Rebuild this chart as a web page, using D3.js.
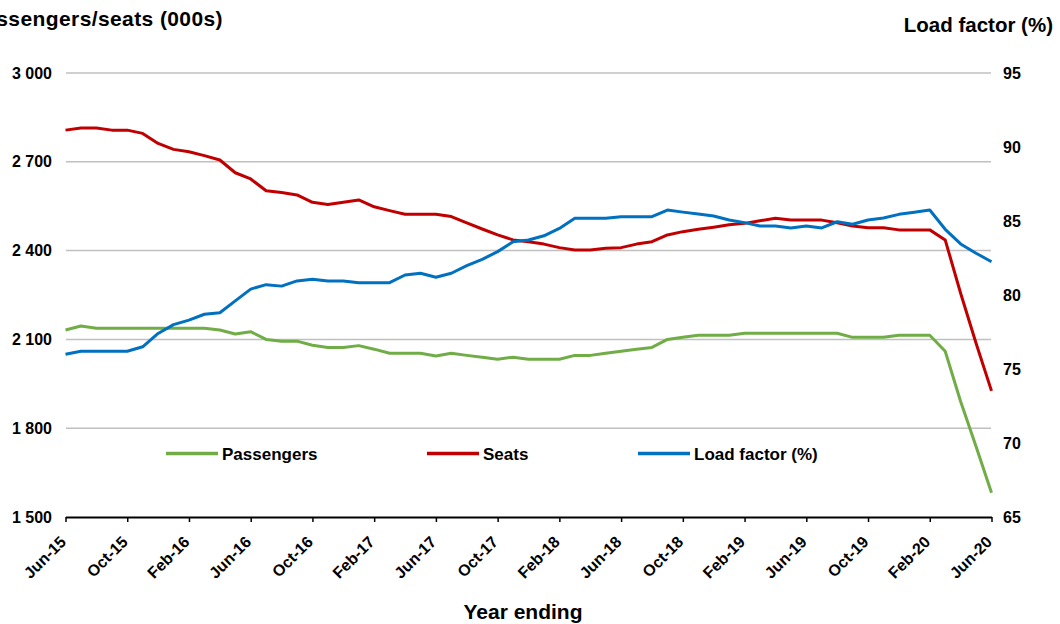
<!DOCTYPE html>
<html><head><meta charset="utf-8">
<script src="https://cdn.jsdelivr.net/npm/d3@7"></script>
<style>
html,body{margin:0;padding:0;background:#fff;}
text{font-family:"Liberation Sans",Arial,sans-serif;font-weight:bold;fill:#000;}
</style></head>
<body>
<svg id="chart" width="1060" height="624"></svg>
<script>
const months = ["Jun-15","Jul-15","Aug-15","Sep-15","Oct-15","Nov-15","Dec-15","Jan-16","Feb-16","Mar-16","Apr-16","May-16",
"Jun-16","Jul-16","Aug-16","Sep-16","Oct-16","Nov-16","Dec-16","Jan-17","Feb-17","Mar-17","Apr-17","May-17",
"Jun-17","Jul-17","Aug-17","Sep-17","Oct-17","Nov-17","Dec-17","Jan-18","Feb-18","Mar-18","Apr-18","May-18",
"Jun-18","Jul-18","Aug-18","Sep-18","Oct-18","Nov-18","Dec-18","Jan-19","Feb-19","Mar-19","Apr-19","May-19",
"Jun-19","Jul-19","Aug-19","Sep-19","Oct-19","Nov-19","Dec-19","Jan-20","Feb-20","Mar-20","Apr-20","May-20","Jun-20"];
const tickLabels = ["Jun-15","Oct-15","Feb-16","Jun-16","Oct-16","Feb-17","Jun-17","Oct-17","Feb-18","Jun-18","Oct-18","Feb-19","Jun-19","Oct-19","Feb-20","Jun-20"];
const passengers = [2132,2145,2138,2138,2138,2138,2138,2138,2138,2138,2132,2118,2126,2100,2094,2094,2080,2073,2073,2079,2067,
2053,2053,2053,2044,2053,2046,2040,2033,2040,2033,2033,2033,2046,2046,2053,2060,2067,2073,2100,2107,2114,2114,2114,
2121,2121,2121,2121,2121,2121,2121,2107,2107,2107,2114,2114,2114,2060,1890,1738,1582];
const seats = [2807,2814,2814,2807,2807,2796,2762,2742,2734,2721,2706,2663,2642,2602,2596,2588,2563,2556,2563,2571,2548,
2535,2523,2523,2523,2515,2494,2473,2453,2436,2430,2422,2410,2402,2402,2408,2410,2422,2430,2453,2464,2472,2479,2487,
2492,2501,2509,2503,2503,2503,2494,2483,2477,2477,2470,2470,2470,2436,2256,2087,1926];
const loadFactor = [76.0,76.2,76.2,76.2,76.2,76.5,77.4,78.0,78.3,78.7,78.8,79.6,80.4,80.7,80.6,80.95,81.06,80.95,80.95,80.83,80.83,
80.83,81.35,81.47,81.2,81.47,81.98,82.41,82.93,83.6,83.72,84.0,84.5,85.18,85.18,85.18,85.29,85.29,85.29,85.74,85.6,85.47,85.34,85.07,
84.89,84.66,84.66,84.53,84.66,84.53,84.95,84.78,85.07,85.2,85.45,85.59,85.74,84.44,83.45,82.82,82.25];
const leftTicks = [1500,1800,2100,2400,2700,3000];
const rightTicks = [65,70,75,80,85,90,95];
const seriesNames = ["Passengers","Seats","Load factor (%)"];
const colors = ["#70ad47","#c00000","#0070c0"];

const svg = d3.select("#chart");
const x = d3.scalePoint().domain(months).range([65.5, 991.5]);
const yL = d3.scaleLinear().domain([1500,3000]).range([517,73]);
const yR = d3.scaleLinear().domain([65,95]).range([517,73]);

const styleText = g => g.selectAll("text").attr("font-size",16)
  .attr("font-family","Liberation Sans, Arial").attr("font-weight","bold").attr("fill","#000");

// gridlines
svg.append("g").selectAll("line").data(leftTicks.filter(d=>d>1500)).join("line")
  .attr("x1",66).attr("x2",991).attr("y1",d=>yL(d)).attr("y2",d=>yL(d))
  .attr("stroke","#c0c0c0").attr("stroke-width",1.5);

// left axis labels
const lAxis = d3.axisLeft(yL).tickValues(leftTicks).tickSize(0).tickPadding(13)
  .tickFormat(d=>d3.format(",")(d).replace(",", " "));
svg.append("g").attr("transform","translate(65,0)").call(lAxis)
  .call(g=>g.select(".domain").remove()).call(styleText);

// right axis labels
const rAxis = d3.axisRight(yR).tickValues(rightTicks).tickSize(0).tickPadding(12);
svg.append("g").attr("transform","translate(991,0)").call(rAxis)
  .call(g=>g.select(".domain").remove()).call(styleText);

// x axis
const xAxis = d3.axisBottom(x).tickValues(tickLabels).tickSize(5).tickSizeOuter(0);
const gx = svg.append("g").attr("transform","translate(0,517)").call(xAxis);
gx.select(".domain").attr("stroke","#000").attr("stroke-width",2);
gx.selectAll(".tick line").attr("stroke","#000").attr("stroke-width",1.5);
gx.call(styleText);
gx.selectAll("text").attr("text-anchor","end").attr("x",0).attr("y",0).attr("dy",0)
  .attr("transform","translate(1,26) rotate(-45)");

// lines
const series = [
  {vals: passengers, y: yL},
  {vals: seats, y: yL},
  {vals: loadFactor, y: yR}
];
series.forEach((s,i)=>{
  const line = d3.line().x((d,j)=>x(months[j])).y(d=>s.y(d));
  svg.append("path").datum(s.vals).attr("d",line).attr("fill","none")
    .attr("stroke",colors[i]).attr("stroke-width",3).attr("stroke-linejoin","round");
});

// legend
const legendX = [166, 427, 638];
const lg = svg.append("g");
seriesNames.forEach((n,i)=>{
  lg.append("line").attr("x1",legendX[i]).attr("x2",legendX[i]+52).attr("y1",453.5).attr("y2",453.5)
    .attr("stroke",colors[i]).attr("stroke-width",3.5);
  lg.append("text").attr("x",legendX[i]+56).attr("y",460).attr("font-size",17).text(n);
});

// titles
svg.append("text").attr("x",223).attr("y",26).attr("text-anchor","end").attr("font-size",21)
  .attr("letter-spacing","0.4px").text("Passengers/seats (000s)");
svg.append("text").attr("x",1053).attr("y",32).attr("text-anchor","end").attr("font-size",20.5).text("Load factor (%)");
svg.append("text").attr("x",523).attr("y",619).attr("text-anchor","middle").attr("font-size",21).text("Year ending");
</script>
</body></html>
